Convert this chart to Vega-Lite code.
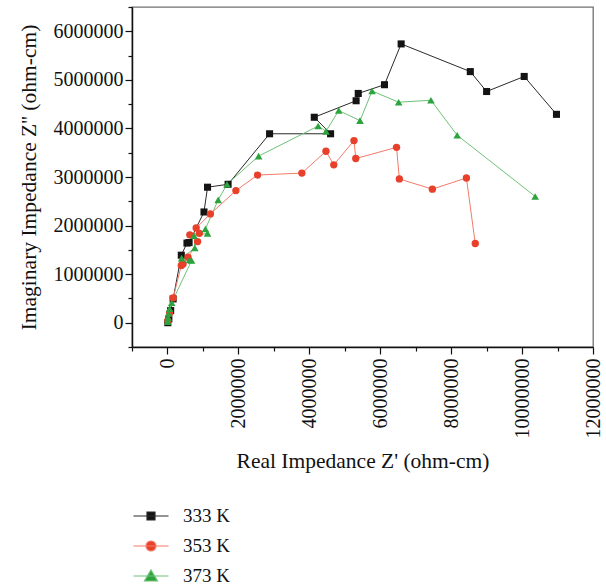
{
  "$schema": "https://vega.github.io/schema/vega-lite/v6.json",
  "width": 461,
  "height": 340,
  "autosize": {"type": "none"},
  "padding": {"left": 132, "top": 7, "right": 13, "bottom": 241},
  "config": {
    "font": "Liberation Serif",
    "view": {"stroke": "#707070", "strokeWidth": 1.3},
    "axis": {"labelFont": "Liberation Serif", "titleFont": "Liberation Serif", "labelColor": "#111", "titleColor": "#111", "titleFontWeight": "normal", "domainColor": "#111", "domainWidth": 1.5, "tickColor": "#111", "tickWidth": 1.2, "grid": false, "labelFontSize": 20, "titleFontSize": 21.5, "labelOverlap": false, "labelBound": false, "labelFlush": false}
  },
  "data": {"values": [
    {"s": "333 K", "i": 1, "x": 10000, "y": 0},
    {"s": "333 K", "i": 2, "x": 40000, "y": 80000},
    {"s": "333 K", "i": 3, "x": 90000, "y": 250000},
    {"s": "333 K", "i": 4, "x": 160000, "y": 490000},
    {"s": "333 K", "i": 5, "x": 390000, "y": 1390000},
    {"s": "333 K", "i": 6, "x": 550000, "y": 1640000},
    {"s": "333 K", "i": 7, "x": 610000, "y": 1650000},
    {"s": "333 K", "i": 8, "x": 1030000, "y": 2280000},
    {"s": "333 K", "i": 9, "x": 1130000, "y": 2790000},
    {"s": "333 K", "i": 10, "x": 1710000, "y": 2850000},
    {"s": "333 K", "i": 11, "x": 2880000, "y": 3890000},
    {"s": "333 K", "i": 12, "x": 4600000, "y": 3890000},
    {"s": "333 K", "i": 13, "x": 4140000, "y": 4230000},
    {"s": "333 K", "i": 14, "x": 5320000, "y": 4570000},
    {"s": "333 K", "i": 15, "x": 5380000, "y": 4720000},
    {"s": "333 K", "i": 16, "x": 6120000, "y": 4900000},
    {"s": "333 K", "i": 17, "x": 6590000, "y": 5740000},
    {"s": "333 K", "i": 18, "x": 8540000, "y": 5170000},
    {"s": "333 K", "i": 19, "x": 9000000, "y": 4760000},
    {"s": "333 K", "i": 20, "x": 10060000, "y": 5070000},
    {"s": "333 K", "i": 21, "x": 10970000, "y": 4290000},
    {"s": "353 K", "i": 1, "x": 10000, "y": 40000},
    {"s": "353 K", "i": 2, "x": 60000, "y": 200000},
    {"s": "353 K", "i": 3, "x": 160000, "y": 510000},
    {"s": "353 K", "i": 4, "x": 390000, "y": 1180000},
    {"s": "353 K", "i": 5, "x": 440000, "y": 1210000},
    {"s": "353 K", "i": 6, "x": 580000, "y": 1350000},
    {"s": "353 K", "i": 7, "x": 850000, "y": 1670000},
    {"s": "353 K", "i": 8, "x": 630000, "y": 1810000},
    {"s": "353 K", "i": 9, "x": 900000, "y": 1840000},
    {"s": "353 K", "i": 10, "x": 810000, "y": 1950000},
    {"s": "353 K", "i": 11, "x": 1210000, "y": 2240000},
    {"s": "353 K", "i": 12, "x": 1930000, "y": 2720000},
    {"s": "353 K", "i": 13, "x": 2540000, "y": 3040000},
    {"s": "353 K", "i": 14, "x": 3790000, "y": 3080000},
    {"s": "353 K", "i": 15, "x": 4470000, "y": 3530000},
    {"s": "353 K", "i": 16, "x": 4690000, "y": 3250000},
    {"s": "353 K", "i": 17, "x": 5260000, "y": 3750000},
    {"s": "353 K", "i": 18, "x": 5310000, "y": 3380000},
    {"s": "353 K", "i": 19, "x": 6460000, "y": 3610000},
    {"s": "353 K", "i": 20, "x": 6540000, "y": 2960000},
    {"s": "353 K", "i": 21, "x": 7470000, "y": 2750000},
    {"s": "353 K", "i": 22, "x": 8430000, "y": 2980000},
    {"s": "353 K", "i": 23, "x": 8680000, "y": 1630000},
    {"s": "373 K", "i": 1, "x": 10000, "y": 20000},
    {"s": "373 K", "i": 2, "x": 20000, "y": 100000},
    {"s": "373 K", "i": 3, "x": 30000, "y": 190000},
    {"s": "373 K", "i": 4, "x": 60000, "y": 290000},
    {"s": "373 K", "i": 5, "x": 120000, "y": 410000},
    {"s": "373 K", "i": 6, "x": 680000, "y": 1280000},
    {"s": "373 K", "i": 7, "x": 620000, "y": 1290000},
    {"s": "373 K", "i": 8, "x": 400000, "y": 1330000},
    {"s": "373 K", "i": 9, "x": 770000, "y": 1540000},
    {"s": "373 K", "i": 10, "x": 750000, "y": 1790000},
    {"s": "373 K", "i": 11, "x": 1130000, "y": 1840000},
    {"s": "373 K", "i": 12, "x": 1070000, "y": 1930000},
    {"s": "373 K", "i": 13, "x": 1430000, "y": 2530000},
    {"s": "373 K", "i": 14, "x": 1680000, "y": 2850000},
    {"s": "373 K", "i": 15, "x": 2570000, "y": 3430000},
    {"s": "373 K", "i": 16, "x": 4250000, "y": 4050000},
    {"s": "373 K", "i": 17, "x": 4470000, "y": 3940000},
    {"s": "373 K", "i": 18, "x": 4830000, "y": 4370000},
    {"s": "373 K", "i": 19, "x": 5430000, "y": 4160000},
    {"s": "373 K", "i": 20, "x": 5770000, "y": 4770000},
    {"s": "373 K", "i": 21, "x": 6520000, "y": 4540000},
    {"s": "373 K", "i": 22, "x": 7430000, "y": 4580000},
    {"s": "373 K", "i": 23, "x": 8170000, "y": 3860000},
    {"s": "373 K", "i": 24, "x": 10370000, "y": 2600000}
  ]},
  "encoding": {
    "x": {
      "field": "x", "type": "quantitative",
      "scale": {"domain": [-1000000, 12000000], "nice": false, "zero": false},
      "axis": {
        "title": "Real Impedance Z' (ohm-cm)",
        "values": [-1000000, 0, 1000000, 2000000, 3000000, 4000000, 5000000, 6000000, 7000000, 8000000, 9000000, 10000000, 11000000, 12000000],
        "format": "d",
        "labelExpr": "(datum.value % 2000000 === 0 && datum.value >= 0) ? datum.label : ''",
        "labelAngle": -90,
        "labelPadding": 4,
        "tickSize": {"condition": {"test": "datum.value % 2000000 === 0", "value": 7}, "value": 4},
        "titlePadding": 12
      }
    },
    "y": {
      "field": "y", "type": "quantitative",
      "scale": {"domain": [-500000, 6500000], "nice": false, "zero": false},
      "axis": {
        "title": "Imaginary Impedance Z'' (ohm-cm)",
        "values": [-500000, 0, 500000, 1000000, 1500000, 2000000, 2500000, 3000000, 3500000, 4000000, 4500000, 5000000, 5500000, 6000000, 6500000],
        "format": "d",
        "labelExpr": "(datum.value % 1000000 === 0 && datum.value >= 0) ? datum.label : ''",
        "labelPadding": 2,
        "tickSize": {"condition": {"test": "datum.value % 1000000 === 0", "value": 7}, "value": 4},
        "titlePadding": 13
      }
    }
  },
  "layer": [
    {
      "mark": {"type": "line", "strokeWidth": 1, "clip": true},
      "encoding": {
        "stroke": {"field": "s", "type": "nominal", "scale": {"domain": ["333 K", "353 K", "373 K"], "range": ["#2a2a2a", "#f17b69", "#6fc277"]}, "legend": null},
        "detail": {"field": "s"},
        "order": {"field": "i", "type": "quantitative"}
      }
    },
    {
      "mark": {"type": "point", "filled": true, "opacity": 1, "clip": true},
      "encoding": {
        "fill": {"field": "s", "type": "nominal", "scale": {"domain": ["333 K", "353 K", "373 K"], "range": ["#141414", "#e8402b", "#2ca33d"]}, "legend": null},
        "shape": {"field": "s", "type": "nominal", "scale": {"domain": ["333 K", "353 K", "373 K"], "range": ["square", "circle", "triangle-up"]}, "legend": null},
        "size": {"field": "s", "type": "nominal", "scale": {"domain": ["333 K", "353 K", "373 K"], "range": [50, 58, 100]}, "legend": null}
      }
    },
    {
      "transform": [{"filter": "datum.i < 0"}],
      "mark": {"type": "point", "filled": true, "opacity": 1, "strokeWidth": 1.2},
      "encoding": {
        "fill": {"field": "s", "type": "nominal", "scale": {"domain": ["333 K", "353 K", "373 K"], "range": ["#141414", "#e8402b", "#2ca33d"]},
          "legend": {"title": null, "orient": "none", "legendX": 8, "legendY": 498, "padding": 0, "symbolSize": 400, "symbolStrokeWidth": 1.2, "symbolOpacity": 1, "labelOffset": 21, "rowPadding": 9, "labelFontSize": 19, "labelFont": "Liberation Serif", "labelColor": "#111"}},
        "stroke": {"field": "s", "type": "nominal", "scale": {"domain": ["333 K", "353 K", "373 K"], "range": ["#2a2a2a", "#f17b69", "#6fc277"]},
          "legend": {"title": null, "orient": "none", "legendX": 8, "legendY": 498, "padding": 0, "symbolSize": 400, "symbolStrokeWidth": 1.2, "symbolOpacity": 1, "labelOffset": 21, "rowPadding": 9, "labelFontSize": 19, "labelFont": "Liberation Serif", "labelColor": "#111"}},
        "shape": {"field": "s", "type": "nominal", "scale": {"domain": ["333 K", "353 K", "373 K"], "range": ["M-1.75,0H1.75M-0.4,-0.4H0.4V0.4H-0.4Z", "M-1.75,0H1.75M0.5,0A0.5,0.5,0,1,1,-0.5,0A0.5,0.5,0,1,1,0.5,0Z", "M-1.75,0H1.75M0,-0.6L0.65,0.5L-0.65,0.5Z"]},
          "legend": {"title": null, "orient": "none", "legendX": 8, "legendY": 498, "padding": 0, "symbolSize": 400, "symbolStrokeWidth": 1.2, "symbolOpacity": 1, "labelOffset": 21, "rowPadding": 9, "labelFontSize": 19, "labelFont": "Liberation Serif", "labelColor": "#111"}}
      }
    }
  ],
  "resolve": {"scale": {"fill": "independent", "stroke": "independent", "shape": "independent", "size": "independent"}}
}
